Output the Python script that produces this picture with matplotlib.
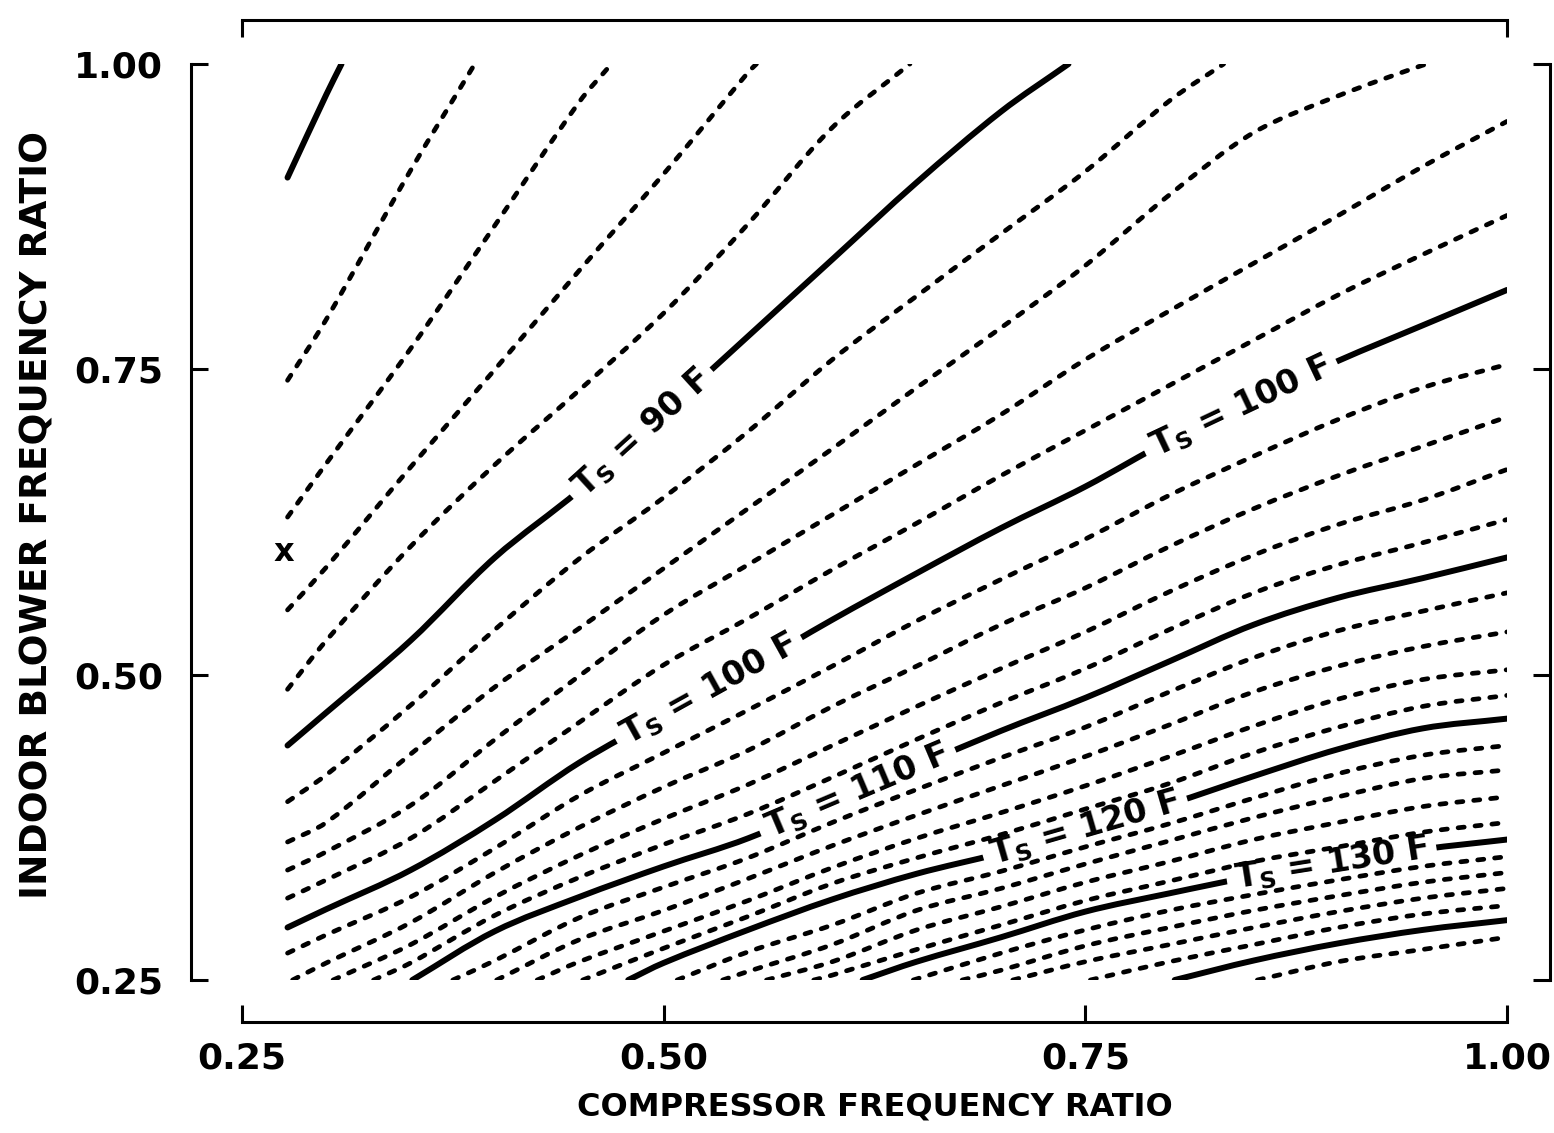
import numpy as np
import matplotlib
matplotlib.use("Agg")
import matplotlib.pyplot as plt
from matplotlib.path import Path
from matplotlib.patches import PathPatch

n = np.nan

# compressor frequency ratio columns at which each contour's blower ratio was read
X_COLS = [0.277, 0.30, 0.35, 0.40, 0.45, 0.50, 0.55, 0.60, 0.65, 0.70, 0.75, 0.80, 0.85, 0.90, 0.95, 1.00]

# indoor blower frequency ratio of each supply-temperature contour at X_COLS
T080 = [.907, .975, n, n, n, n, n, n, n, n, n, n, n, n, n, n]
T082 = [.741, .791, .913, n, n, n, n, n, n, n, n, n, n, n, n, n]
T084 = [.629, .673, .767, .868, .969, n, n, n, n, n, n, n, n, n, n, n]
T086 = [.553, .588, .670, .750, .831, .910, .993, n, n, n, n, n, n, n, n, n]
T088 = [.488, .528, .605, .672, .733, .796, .869, .948, n, n, n, n, n, n, n, n]
T090 = [.442, .469, .528, .596, .651, .714, .777, .840, .903, .961, n, n, n, n, n, n]
T092 = [.396, .418, .475, .537, .595, .645, .699, .758, .810, .861, .912, .970, n, n, n, n]
T094 = [.363, .379, .435, .490, .538, .587, .636, .685, .735, .784, .835, .893, .944, .974, .999, n]
T096 = [.340, .355, .393, .447, .499, .549, .590, .631, .672, .713, .758, .798, .837, .876, .916, .953]
T098 = [.317, .332, .366, .413, .461, .508, .546, .586, .624, .663, .700, .737, .774, .811, .844, .876]
T100 = [.293, .308, .340, .381, .428, .467, .505, .545, .583, .620, .654, .692, .725, .757, .786, .815]
T102 = [.272, .287, .318, .358, .401, .436, .471, .507, .544, .578, .611, .647, .679, .709, .735, .754]
T104 = [n, .264, .297, .338, .375, .408, .438, .474, .507, .541, .571, .605, .636, .663, .687, .711]
T106 = [n, n, .279, .318, .352, .382, .410, .442, .474, .505, .535, .568, .598, .623, .643, .668]
T108 = [n, n, .264, .303, .334, .361, .386, .416, .447, .477, .505, .537, .567, .590, .608, .627]
T110 = [n, n, n, .290, .318, .343, .366, .396, .425, .454, .481, .511, .541, .563, .579, .596]
T112 = [n, n, n, .266, .301, .326, .350, .379, .406, .432, .457, .486, .514, .536, .552, .567]
T114 = [n, n, n, n, .283, .307, .333, .360, .385, .409, .433, .459, .486, .507, .523, .535]
T116 = [n, n, n, n, .265, .290, .315, .342, .366, .387, .409, .433, .458, .480, .496, .504]
T118 = [n, n, n, n, n, .276, .302, .329, .350, .369, .390, .411, .436, .457, .474, .483]
T120 = [n, n, n, n, n, .264, .291, .316, .337, .354, .374, .394, .417, .439, .456, .464]
T122 = [n, n, n, n, n, n, .273, .295, .321, .339, .359, .378, .399, .419, .434, .442]
T124 = [n, n, n, n, n, n, .257, .279, .307, .325, .345, .364, .383, .400, .415, .422]
T126 = [n, n, n, n, n, n, n, .265, .291, .310, .330, .347, .365, .379, .392, .400]
T128 = [n, n, n, n, n, n, n, .254, .275, .295, .315, .331, .347, .359, .371, .379]
T130 = [n, n, n, n, n, n, n, n, .265, .285, .306, .321, .335, .346, .357, .365]
T132 = [n, n, n, n, n, n, n, n, n, .272, .291, .307, .320, .332, .343, .351]
T134 = [n, n, n, n, n, n, n, n, n, .258, .278, .293, .307, .319, .330, .338]
T136 = [n, n, n, n, n, n, n, n, n, n, .265, .279, .293, .306, .317, .325]
T138 = [n, n, n, n, n, n, n, n, n, n, n, .265, .279, .293, .304, .311]
T140 = [n, n, n, n, n, n, n, n, n, n, n, n, .266, .280, .291, .299]
T142 = [n, n, n, n, n, n, n, n, n, n, n, n, n, .265, .275, .285]

LEVELS = list(range(80, 143, 2))
CONTOURS = [T080, T082, T084, T086, T088, T090, T092, T094, T096, T098, T100,
            T102, T104, T106, T108, T110, T112, T114, T116, T118, T120,
            T122, T124, T126, T128, T130, T132, T134, T136, T138, T140, T142]

# where contours leave through the top edge (blower ratio 1.00)
TOP_LEVELS = [80, 82, 84, 86, 88, 90, 92, 94]
TOP_X = [0.309, 0.388, 0.469, 0.555, 0.646, 0.740, 0.832, 0.954]
# where contours enter through the bottom edge (blower ratio 0.25)
BOTTOM_LEVELS = [104, 106, 108, 110, 112, 114, 116, 118, 120, 122,
                 124, 126, 128, 130, 132, 134, 136, 138, 140, 142]
BOTTOM_X = [0.280, 0.304, 0.328, 0.351, 0.375, 0.401, 0.425, 0.452, 0.479, 0.508,
            0.535, 0.561, 0.589, 0.618, 0.648, 0.677, 0.707, 0.753, 0.803, 0.852]

# contour labels: (level, compressor ratio of label centre)
LABEL_LEVELS = [90, 100, 100, 110, 120, 130]
LABEL_X = [0.487, 0.527, 0.842, 0.615, 0.750, 0.896]

MARK_X, MARK_Y = 0.275, 0.600

TICKS = [0.25, 0.50, 0.75, 1.00]
TICK_LABELS = ["0.25", "0.50", "0.75", "1.00"]

plt.rcParams["font.family"] = ["DejaVu Sans"]
plt.rcParams["font.weight"] = "bold"
plt.rcParams["mathtext.fontset"] = "dejavusans"
plt.rcParams["mathtext.default"] = "bf"

fig = plt.figure(figsize=(15.54, 11.33), dpi=100)
ax = fig.add_axes([242 / 1554, 1 - 980 / 1133, (1507 - 242) / 1554, (980 - 64) / 1133])
ax.set_xlim(0.25, 1.0)
ax.set_ylim(0.25, 1.0)


def smooth_path(xs, ys):
    """Smooth curve through the read points (cubic Bezier segments, display-space tangents)."""
    pts = ax.transData.transform(np.column_stack([xs, ys]))
    m = len(pts)
    if m < 3:
        verts = ax.transData.inverted().transform(pts)
        return Path(verts, [Path.MOVETO] + [Path.LINETO] * (m - 1))
    tang = np.zeros_like(pts)
    for i in range(m):
        a = pts[max(i - 1, 0)]
        b = pts[min(i + 1, m - 1)]
        d = b - a
        tang[i] = d / np.hypot(*d)
    verts = [pts[0]]
    codes = [Path.MOVETO]
    for i in range(m - 1):
        seg = np.hypot(*(pts[i + 1] - pts[i])) / 3.0
        verts += [pts[i] + tang[i] * seg, pts[i + 1] - tang[i + 1] * seg, pts[i + 1]]
        codes += [Path.CURVE4] * 3
    verts = ax.transData.inverted().transform(np.array(verts))
    return Path(verts, codes)


lines = {}
for lev, ys in zip(LEVELS, CONTOURS):
    pts = [(x, y) for x, y in zip(X_COLS, ys) if not np.isnan(y)]
    if lev in BOTTOM_LEVELS:
        pts.append((BOTTOM_X[BOTTOM_LEVELS.index(lev)], 0.25))
    if lev in TOP_LEVELS:
        pts.append((TOP_X[TOP_LEVELS.index(lev)], 1.0))
    pts.sort()
    xs = np.array([p[0] for p in pts])
    yv = np.array([p[1] for p in pts])
    lines[lev] = (xs, yv)
    path = smooth_path(xs, yv)
    if lev % 10 == 0:
        patch = PathPatch(path, fill=False, edgecolor="black", lw=4.3,
                          capstyle="round", joinstyle="round", zorder=2)
    else:
        patch = PathPatch(path, fill=False, edgecolor="black", lw=3.4,
                          linestyle=(0, (1.3, 2.3)), capstyle="round", zorder=4)
    ax.add_patch(patch)

for lev, lx in zip(LABEL_LEVELS, LABEL_X):
    xs, yv = lines[lev]
    ly = np.interp(lx, xs, yv)
    p0 = ax.transData.transform((lx - 0.03, np.interp(lx - 0.03, xs, yv)))
    p1 = ax.transData.transform((lx + 0.03, np.interp(lx + 0.03, xs, yv)))
    ang = np.degrees(np.arctan2(p1[1] - p0[1], p1[0] - p0[0]))
    ax.text(lx, ly, "T$_{S}$ = %d F" % lev, fontsize=24, fontweight="bold",
            rotation=ang, rotation_mode="anchor", ha="center", va="center",
            zorder=3, bbox=dict(boxstyle="square,pad=0.25", fc="white", ec="none"))

ax.text(MARK_X, MARK_Y, "x", fontsize=23, fontweight="bold", ha="center", va="center")

# axes frame: detached spines with inward ticks
for side, off in (("left", 37), ("bottom", 30), ("right", 31)):
    ax.spines[side].set_position(("outward", off))
    ax.spines[side].set_bounds(0.25, 1.0)
    ax.spines[side].set_linewidth(2.2)
ax.spines["top"].set_visible(False)

ax.set_xticks(TICKS)
ax.set_xticklabels(TICK_LABELS)
ax.set_yticks(TICKS)
ax.set_yticklabels(TICK_LABELS)
ax.tick_params(axis="both", direction="in", length=12, width=2.2, labelsize=26)
ax.tick_params(axis="x", pad=14, top=False)
ax.tick_params(axis="y", pad=20, right=True, labelright=False)

sec = ax.secondary_xaxis("top")
sec.set_xticks([0.25, 1.0])
sec.tick_params(direction="in", length=12, width=2.2, labeltop=False)
sec.spines["top"].set_position(("outward", 32))
sec.spines["top"].set_bounds(0.25, 1.0)
sec.spines["top"].set_linewidth(2.2)

ax.set_xlabel("COMPRESSOR FREQUENCY RATIO", fontsize=23, fontweight="bold", labelpad=12)
ax.set_ylabel("INDOOR BLOWER FREQUENCY RATIO", fontsize=27, fontweight="bold", labelpad=13)
ax.yaxis.label.set_y(0.508)

fig.savefig("out.png", dpi=100)
